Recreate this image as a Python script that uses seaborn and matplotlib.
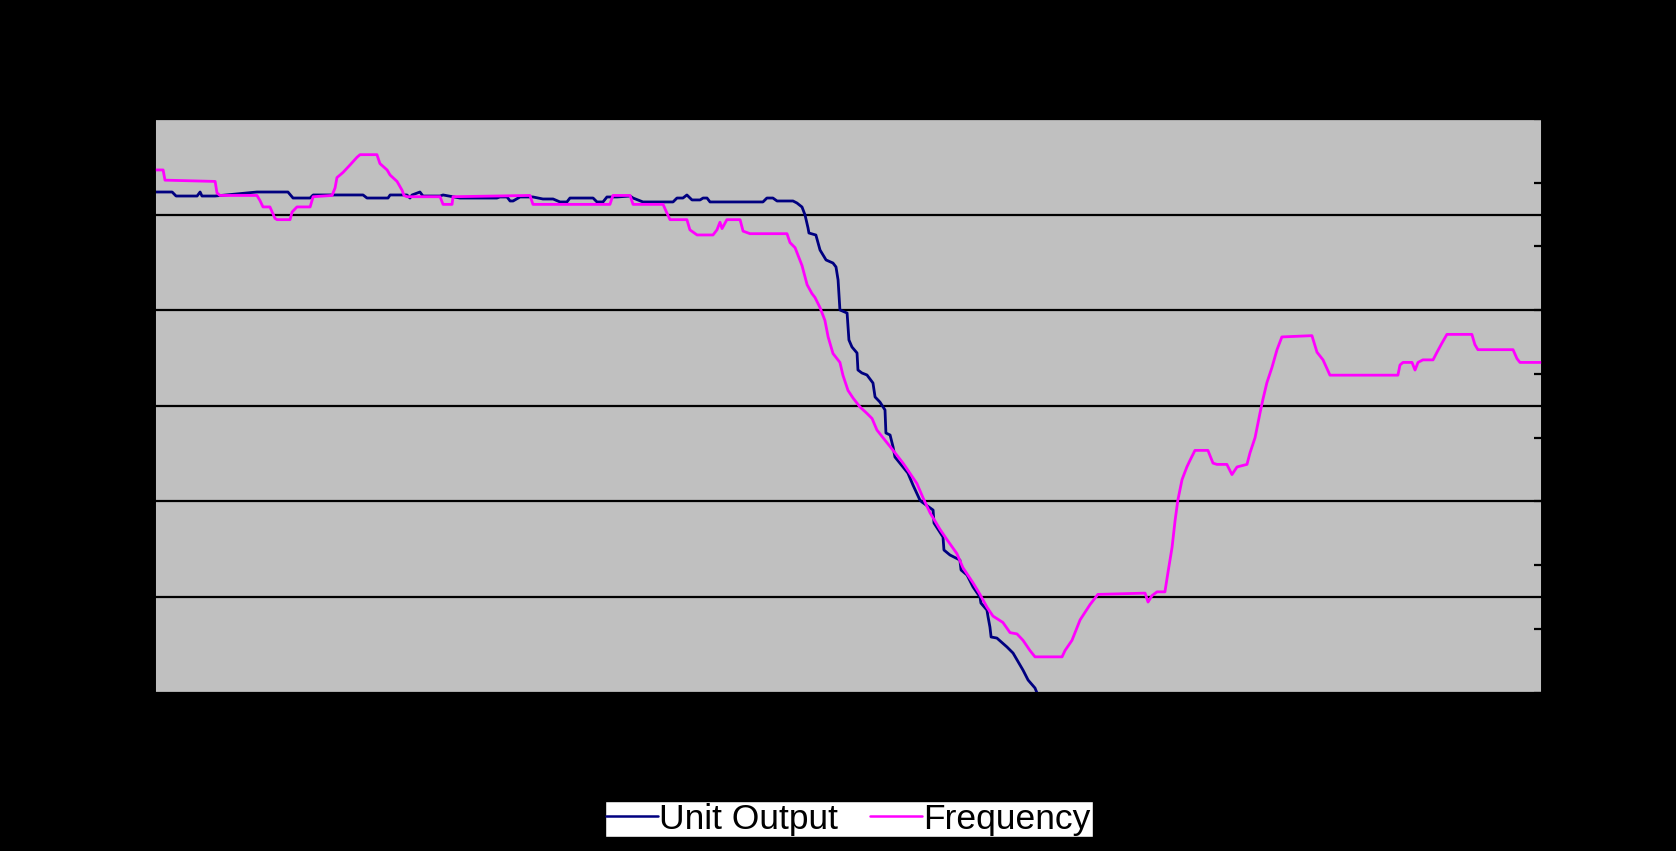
import matplotlib
matplotlib.use("Agg")
import matplotlib.pyplot as plt
from matplotlib.lines import Line2D
import seaborn as sns
import pandas as pd

# Unit output (MW) against elapsed time (s)
output_time = [0.0, 7.4, 9.1, 18.2, 19.5, 20.3, 26.0, 44.1, 57.5, 59.7, 67.1, 68.4, 90.0, 91.7,
               100.8, 101.7, 109.0, 110.3, 111.2, 114.6, 115.9, 123.3, 124.6, 131.9, 147.9, 149.2,
               152.3, 153.6, 154.9, 157.9, 163.5, 167.8, 172.2, 175.2, 178.2, 179.5, 189.5, 191.2,
               193.8, 195.5, 199.9, 205.5, 206.8, 211.1, 224.1, 225.8, 228.4, 230.1, 232.3, 235.8,
               237.1, 238.8, 240.1, 263.0, 264.7, 267.3, 269.1, 276.0, 277.7, 279.9, 281.2, 282.5,
               282.9, 285.9, 287.7, 290.3, 293.3, 294.6, 295.5, 296.3, 299.4, 300.2, 301.5, 303.7,
               304.1, 305.8, 308.0, 310.6, 311.5, 313.6, 315.8, 316.2, 318.0, 319.3, 320.1, 323.6,
               325.7, 327.9, 330.9, 331.8, 336.6, 337.0, 340.9, 341.3, 343.9, 348.2, 348.7, 351.3,
               353.9, 356.9, 357.3, 359.9, 360.4, 361.2, 361.7, 364.2, 368.6, 371.2, 375.5, 377.7,
               380.7, 382.8]
unit_output = [523.6, 523.6, 519.4, 519.4, 523.6, 519.4, 519.4, 523.6, 523.6, 517.3, 517.3, 520.5,
               520.5, 517.3, 517.3, 520.5, 520.5, 517.3, 520.5, 523.6, 519.4, 519.4, 520.5, 517.3,
               517.3, 518.4, 518.4, 514.2, 514.2, 518.4, 518.4, 516.3, 516.3, 513.2, 513.2, 517.3,
               517.3, 513.2, 513.2, 518.4, 518.4, 519.4, 517.3, 513.2, 513.2, 517.3, 517.3, 520.5,
               515.3, 515.3, 517.3, 517.3, 513.2, 513.2, 517.3, 517.3, 514.2, 514.2, 512.1, 507.9,
               499.6, 486.0, 480.7, 478.6, 462.9, 452.5, 449.3, 445.2, 431.6, 400.2, 397.0, 368.8,
               361.5, 355.2, 337.4, 334.3, 332.2, 323.8, 309.2, 303.9, 295.6, 271.5, 269.4, 256.8,
               246.4, 235.9, 229.6, 217.1, 201.4, 199.3, 190.9, 177.3, 162.7, 149.1, 143.9, 138.6,
               128.2, 122.9, 110.4, 99.9, 93.6, 86.3, 79.0, 68.5, 58.1, 57.0, 47.6, 41.3, 23.5,
               13.1, 4.7, -7.8]

# System frequency (Hz) against elapsed time (s)
freq_time = [0.0, 3.5, 4.3, 26.0, 26.8, 28.1, 44.1, 45.4, 46.7, 49.7, 51.9, 52.8, 58.4, 59.3, 61.4,
             67.1, 68.4, 76.6, 77.9, 78.7, 81.3, 84.4, 87.4, 88.7, 96.0, 97.3, 100.4, 101.7, 104.7,
             106.9, 107.7, 109.0, 123.3, 124.6, 128.5, 128.9, 162.2, 163.5, 196.8, 198.1, 205.5,
             206.8, 219.8, 221.5, 222.8, 230.1, 231.4, 234.5, 241.4, 243.1, 244.4, 245.3, 247.4,
             253.1, 254.4, 257.4, 273.4, 274.7, 276.9, 278.2, 279.9, 282.1, 284.2, 285.5, 287.7,
             289.8, 291.2, 293.3, 296.3, 297.6, 299.8, 302.0, 305.0, 308.0, 310.2, 312.3, 314.9,
             318.0, 321.0, 323.6, 326.6, 329.6, 332.2, 335.3, 339.6, 342.6, 346.9, 349.5, 353.9,
             356.9, 359.9, 362.5, 366.8, 369.9, 372.9, 375.5, 378.5, 380.7, 392.4, 393.7, 396.7,
             400.2, 404.5, 407.9, 428.3, 429.6, 431.3, 433.5, 436.9, 438.2, 440.0, 441.3, 442.5,
             444.3, 446.4, 447.7, 449.9, 455.5, 457.7, 459.4, 463.7, 465.9, 468.1, 472.4, 473.7,
             475.9, 478.0, 479.3, 481.0, 483.2, 485.4, 487.5, 500.5, 502.7, 505.3, 508.3, 537.7,
             538.6, 539.9, 543.8, 545.1, 546.4, 548.5, 552.9, 554.6, 556.7, 558.9, 569.7, 571.0,
             572.3, 587.5, 589.2, 590.5, 600.0]
frequency = [49.960, 49.960, 49.952, 49.951, 49.942, 49.940, 49.940, 49.936, 49.931, 49.931, 49.922,
             49.921, 49.921, 49.927, 49.931, 49.931, 49.939, 49.940, 49.946, 49.954, 49.958, 49.964,
             49.970, 49.972, 49.972, 49.965, 49.960, 49.956, 49.951, 49.944, 49.940, 49.939, 49.939,
             49.933, 49.933, 49.939, 49.940, 49.933, 49.933, 49.940, 49.940, 49.933, 49.933, 49.926,
             49.921, 49.921, 49.913, 49.909, 49.909, 49.913, 49.919, 49.914, 49.921, 49.921, 49.912,
             49.910, 49.910, 49.903, 49.899, 49.893, 49.885, 49.870, 49.863, 49.860, 49.852, 49.842,
             49.829, 49.816, 49.809, 49.799, 49.787, 49.781, 49.774, 49.769, 49.765, 49.756, 49.750,
             49.743, 49.736, 49.730, 49.722, 49.714, 49.703, 49.691, 49.678, 49.670, 49.659, 49.648,
             49.636, 49.627, 49.617, 49.610, 49.605, 49.597, 49.596, 49.591, 49.583, 49.578, 49.578,
             49.583, 49.591, 49.607, 49.619, 49.627, 49.628, 49.621, 49.626, 49.629, 49.629, 49.644,
             49.664, 49.685, 49.701, 49.717, 49.727, 49.732, 49.740, 49.740, 49.730, 49.729, 49.729,
             49.721, 49.727, 49.729, 49.738, 49.750, 49.769, 49.780, 49.793, 49.805, 49.819, 49.829,
             49.830, 49.817, 49.811, 49.799, 49.799, 49.807, 49.809, 49.809, 49.803, 49.809, 49.811,
             49.811, 49.817, 49.824, 49.831, 49.831, 49.823, 49.819, 49.819, 49.812, 49.809, 49.809]

output_ticks = [0, 100, 200, 300, 400, 500, 600]
freq_ticks = [49.55, 49.60, 49.65, 49.70, 49.75, 49.80, 49.85, 49.90, 49.95, 50.00]
time_ticks = list(range(0, 601, 25))

series_names = ["Unit Output", "Frequency"]
series_colors = ["#000080", "#FF00FF"]

sns.set_theme(style="white")
plt.rcParams["font.family"] = ["Liberation Sans", "DejaVu Sans"]

output_df = pd.DataFrame({"time": output_time, "value": unit_output})
freq_df = pd.DataFrame({"time": freq_time, "value": frequency})

fig = plt.figure(figsize=(16.76, 8.51), dpi=100, facecolor="black")
ax = fig.add_axes([0.0925, 0.1862, 0.8275, 0.674])
ax.set_facecolor("#C0C0C0")
ax.set_axisbelow(True)

sns.lineplot(data=output_df, x="time", y="value", ax=ax, color=series_colors[0],
             linewidth=2.0, estimator=None, sort=False, legend=False)
ax.set_xlim(0, 600)
ax.set_ylim(0, 600)
ax.set_yticks(output_ticks)
ax.set_xticks(time_ticks)
ax.grid(axis="y", color="black", linewidth=1.6)
ax.grid(axis="x", visible=False)
ax.tick_params(axis="y", colors="black", labelsize=11, length=0)
ax.tick_params(axis="x", colors="black", labelsize=9, length=0, pad=8)
ax.set_xlabel("")
ax.set_ylabel("")
for side in ax.spines.values():
    side.set_color("black")
    side.set_linewidth(1.2)

ax2 = ax.twinx()
sns.lineplot(data=freq_df, x="time", y="value", ax=ax2, color=series_colors[1],
             linewidth=2.0, estimator=None, sort=False, legend=False)
ax2.set_xlim(0, 600)
ax2.set_ylim(freq_ticks[0], freq_ticks[-1])
ax2.set_yticks(freq_ticks)
ax2.grid(False)
ax2.tick_params(axis="y", colors="black", labelsize=11, direction="inout", length=11, width=1.6)
ax2.set_ylabel("")
for side in ax2.spines.values():
    side.set_color("black")
    side.set_linewidth(1.2)

handles = [Line2D([0], [0], color=c, linewidth=1.8) for c in series_colors]
leg = fig.legend(handles, series_names, loc="center", bbox_to_anchor=(0.5063, 0.0375),
                 ncol=2, frameon=True, fancybox=False, framealpha=1.0, fontsize=25.5,
                 handlelength=1.45, handletextpad=0.05, columnspacing=0.9, borderpad=0.05,
                 borderaxespad=0)
leg.get_frame().set_facecolor("white")
leg.get_frame().set_edgecolor("black")
leg.get_frame().set_linewidth(1.0)
for txt in leg.get_texts():
    txt.set_color("black")

fig.savefig("out.png", dpi=100, facecolor="black")
